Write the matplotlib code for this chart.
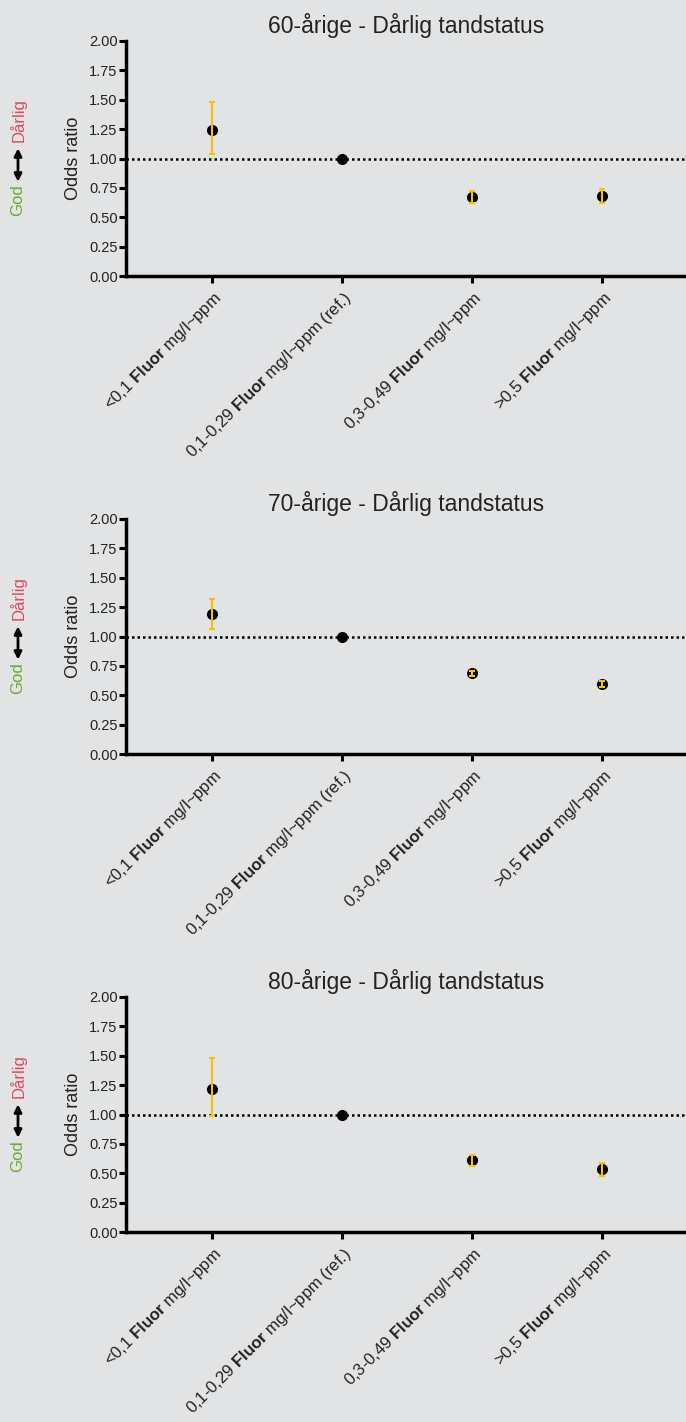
import matplotlib
matplotlib.use("Agg")
import matplotlib.pyplot as plt
import numpy as np

plt.rcParams['font.family'] = ['Liberation Sans', 'DejaVu Sans']
plt.rcParams['mathtext.fontset'] = 'custom'
plt.rcParams['mathtext.rm'] = 'Liberation Sans'
plt.rcParams['mathtext.bf'] = 'Liberation Sans:bold'

categories = [r"<0,1 $\bf{Fluor}$ mg/l~ppm",
              r"0,1-0,29 $\bf{Fluor}$ mg/l~ppm (ref.)",
              r"0,3-0,49 $\bf{Fluor}$ mg/l~ppm",
              r">0,5 $\bf{Fluor}$ mg/l~ppm"]

titles = ["60-årige - Dårlig tandstatus",
          "70-årige - Dårlig tandstatus",
          "80-årige - Dårlig tandstatus"]

or_60 = [1.24, 1.00, 0.67, 0.68]
lo_60 = [1.04, 1.00, 0.62, 0.62]
hi_60 = [1.48, 1.00, 0.72, 0.74]

or_70 = [1.19, 1.00, 0.69, 0.60]
lo_70 = [1.06, 1.00, 0.66, 0.57]
hi_70 = [1.32, 1.00, 0.71, 0.62]

or_80 = [1.22, 1.00, 0.61, 0.54]
lo_80 = [0.99, 1.00, 0.56, 0.48]
hi_80 = [1.48, 1.00, 0.655, 0.59]

yticks = [0.00, 0.25, 0.50, 0.75, 1.00, 1.25, 1.50, 1.75, 2.00]

bg = '#e2e3e5'
gold = '#f5c400'

W, H = 686, 1422
fig = plt.figure(figsize=(W / 100, H / 100), dpi=100, facecolor=bg)

panels = [(or_60, lo_60, hi_60), (or_70, lo_70, hi_70), (or_80, lo_80, hi_80)]
tops = [41, 519, 997]
ax_h = 235
left = 126

for (orv, lo, hi), title, top in zip(panels, titles, tops):
    ax = fig.add_axes([left / W, 1 - (top + ax_h) / H, (W - left) / W, ax_h / H])
    ax.set_facecolor(bg)
    x = np.arange(len(categories))
    orv = np.array(orv); lo = np.array(lo); hi = np.array(hi)
    ax.axhline(1.0, color='black', linestyle=(0, (1, 1.2)), linewidth=1.8, zorder=1)
    ax.plot(x, orv, 'o', color='black', markersize=7, zorder=3)
    mask = hi - lo > 0
    ax.errorbar(x[mask], orv[mask], yerr=[orv[mask] - lo[mask], hi[mask] - orv[mask]],
                fmt='none', ecolor=gold, elinewidth=1.5, capsize=2.2, capthick=1.5, zorder=4)
    ax.set_xlim(-0.662, 3.646)
    ax.set_ylim(0, 2.0)
    ax.set_yticks(yticks)
    ax.set_yticklabels([f"{v:.2f}" for v in yticks])
    ax.set_xticks(x)
    ax.set_xticklabels(categories, rotation=45, ha='right', rotation_mode='anchor',
                       fontsize=12)
    for s in ['top', 'right']:
        ax.spines[s].set_visible(False)
    for s in ['left', 'bottom']:
        ax.spines[s].set_linewidth(2.5)
    ax.tick_params(axis='both', width=2.2, length=5, color='black', labelcolor='#222222')
    ax.tick_params(axis='y', pad=1, labelsize=10.5)
    ax.tick_params(axis='x', pad=4)
    ax.set_ylabel("Odds ratio", fontsize=13, labelpad=5, color='#222222')
    ax.set_title(title, fontsize=16.5, pad=6, color='#222222')

    # God <-> Dårlig annotation
    ymid = top + ax_h - 117.5 * 1.0  # pixel row of 1.00
    fig.text(18 / W, 1 - (ymid + 42) / H, "God", rotation=90, color='#6aab2b',
             fontsize=12, ha='center', va='center')
    fig.text(18 / W, 1 - (ymid - 38) / H, "Dårlig", rotation=90, color='#e04a5c',
             fontsize=12, ha='center', va='center')
    fig.patches.append(matplotlib.patches.FancyArrowPatch(
        (18 / W, 1 - (ymid + 26) / H), (18 / W, 1 - (ymid - 13) / H),
        transform=fig.transFigure, arrowstyle='<|-|>', mutation_scale=11,
        color='black', linewidth=2))

fig.savefig("out.png", dpi=100, facecolor=bg)
